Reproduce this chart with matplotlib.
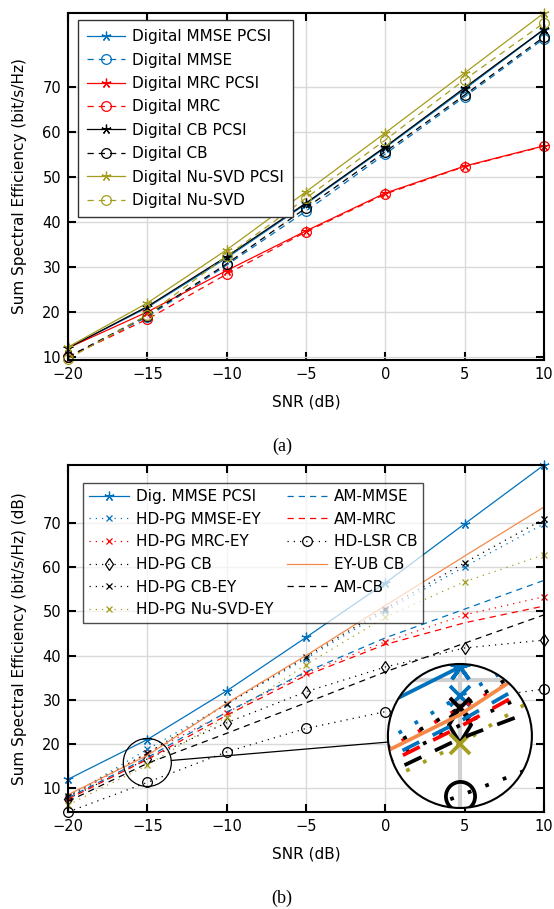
import numpy as np
import matplotlib
matplotlib.use("Agg")
import matplotlib.pyplot as plt
from matplotlib.patches import Circle, Ellipse
from matplotlib.lines import Line2D

#
# Data
#
snr = [-20, -15, -10, -5, 0, 5, 10]

# (a) digital precoders
dig_mmse_pcsi = [12.0, 21.0, 32.0, 44.0, 56.5, 69.5, 82.7]
dig_mmse = [10.0, 18.9, 30.4, 42.4, 55.1, 67.8, 80.7]
dig_mrc_pcsi = [12.0, 20.0, 29.2, 38.0, 46.4, 52.4, 56.9]
dig_mrc = [10.0, 18.4, 28.4, 37.8, 46.2, 52.3, 56.8]
dig_cb_pcsi = [12.0, 21.2, 32.3, 44.2, 56.7, 69.8, 82.8]
dig_cb = [10.0, 19.2, 30.7, 43.1, 55.6, 68.2, 81.1]
dig_nusvd_pcsi = [12.2, 22.0, 33.8, 46.7, 59.8, 73.1, 86.4]
dig_nusvd = [9.6, 19.3, 32.4, 45.3, 58.2, 71.6, 84.2]

# (b) hybrid precoders
b_dig_mmse_pcsi = [12.0, 21.0, 32.0, 44.1, 56.4, 69.8, 83.1]
hdpg_mmse_ey = [8.0, 18.8, 29.0, 39.3, 50.1, 60.1, 69.8]
hdpg_mrc_ey = [7.8, 17.9, 27.1, 36.0, 43.1, 49.2, 53.3]
hdpg_cb = [7.6, 16.6, 24.8, 31.8, 37.4, 41.7, 43.5]
hdpg_cb_ey = [8.2, 17.9, 29.0, 39.7, 50.6, 61.0, 70.9]
hdpg_nusvd_ey = [6.2, 15.2, 26.1, 37.9, 48.7, 56.7, 62.8]
am_mmse = [7.8, 16.9, 27.2, 36.3, 44.0, 50.5, 57.0]
am_mrc = [7.5, 16.5, 26.5, 35.5, 42.5, 47.4, 51.2]
hdlsr_cb = [4.6, 11.3, 18.2, 23.5, 27.3, 30.0, 32.4]
eyub_cb = [8.5, 17.4, 29.2, 40.0, 51.3, 62.5, 73.6]
am_cb = [7.0, 15.6, 22.4, 29.3, 36.3, 42.8, 49.2]

#
# Styles
#
BLUE = '#0072bd'
RED = '#ff0000'
OLIVE = '#a59d1d'
ORANGE = '#f5894a'
STAR = (5, 2, 0)
SOLID = '-'
DASH = (0, (5, 4))
DOT = (0, (1, 4))

W, H = 554, 909
LW = 0.9

plt.rcParams['font.family'] = ['DejaVu Sans']
plt.rcParams['font.size'] = 11

fig = plt.figure(figsize=(W / 100, H / 100), dpi=100)


def px_axes(l, t, r, b):
    return fig.add_axes([l / W, 1 - b / H, (r - l) / W, (b - t) / H])


def style_axes(ax, ylabel, ylim):
    ax.set_xlim(-20, 10)
    ax.set_ylim(*ylim)
    ax.set_xticks(snr)
    ax.set_yticks(range(10, 80, 10))
    ax.grid(True, color='#d9d9d9', lw=1.0)
    ax.set_axisbelow(True)
    ax.tick_params(direction='in', length=6, width=1.5, top=True, right=True,
                   labelsize=10.5, pad=5)
    for s in ax.spines.values():
        s.set_linewidth(1.5)
    ax.set_xlabel('SNR (dB)', labelpad=9)
    ax.set_ylabel(ylabel, labelpad=11)


def plot_series(ax, specs, scale=1.0, clip=None):
    for label, vals, color, ls, marker, ms in specs:
        ln, = ax.plot(snr, vals, color=color, linestyle=ls, lw=LW * scale,
                      marker=marker, ms=ms * scale, mew=LW * scale,
                      mfc='none', label=label, clip_on=(clip is not None))
        if clip is not None:
            ln.set_clip_path(clip)


#
# (a) Digital
#
ax1 = px_axes(68, 13, 544, 360)
specs_a = [
    ('Digital MMSE PCSI', dig_mmse_pcsi, BLUE, SOLID, STAR, 7),
    ('Digital MMSE', dig_mmse, BLUE, DASH, 'o', 7),
    ('Digital MRC PCSI', dig_mrc_pcsi, RED, SOLID, STAR, 7),
    ('Digital MRC', dig_mrc, RED, DASH, 'o', 7),
    ('Digital CB PCSI', dig_cb_pcsi, 'k', SOLID, STAR, 7),
    ('Digital CB', dig_cb, 'k', DASH, 'o', 7),
    ('Digital Nu-SVD PCSI', dig_nusvd_pcsi, OLIVE, SOLID, STAR, 7),
    ('Digital Nu-SVD', dig_nusvd, OLIVE, DASH, 'o', 7),
]
plot_series(ax1, specs_a)
style_axes(ax1, 'Sum Spectral Efficiency (bit/s/Hz)', (9.33, 86.4))
leg = ax1.legend(loc='upper left', bbox_to_anchor=(10 / 476, 1 - 7 / 347),
                 borderaxespad=0, fancybox=False, edgecolor='#333333',
                 framealpha=1, handlelength=2.5, handletextpad=0.45,
                 labelspacing=0.55, borderpad=0.6, fontsize=11)
leg.get_frame().set_linewidth(1.0)

#
# (b) Hybrid
#
ax2 = px_axes(68, 465, 544, 812)
specs_b = [
    ('Dig. MMSE PCSI', b_dig_mmse_pcsi, BLUE, SOLID, STAR, 7),
    ('HD-PG MMSE-EY', hdpg_mmse_ey, BLUE, DOT, 'x', 5),
    ('HD-PG MRC-EY', hdpg_mrc_ey, RED, DOT, 'x', 5),
    ('HD-PG CB', hdpg_cb, 'k', DOT, 'd', 6),
    ('HD-PG CB-EY', hdpg_cb_ey, 'k', DOT, 'x', 5),
    ('HD-PG Nu-SVD-EY', hdpg_nusvd_ey, OLIVE, DOT, 'x', 5),
    ('AM-MMSE', am_mmse, BLUE, DASH, '', 0),
    ('AM-MRC', am_mrc, RED, DASH, '', 0),
    ('HD-LSR CB', hdlsr_cb, 'k', DOT, 'o', 7),
    ('EY-UB CB', eyub_cb, ORANGE, SOLID, '', 0),
    ('AM-CB', am_cb, 'k', DASH, '', 0),
]
plot_series(ax2, specs_b)
style_axes(ax2, 'Sum Spectral Efficiency (bit/s/Hz) (dB)', (4.6, 83.1))
leg2 = ax2.legend(loc='upper left', ncol=2, bbox_to_anchor=(15 / 476, 1 - 18 / 347),
                  borderaxespad=0, fancybox=False, edgecolor='k', framealpha=0.7,
                  handlelength=2.6, handletextpad=0.45, columnspacing=0.9,
                  labelspacing=0.5, fontsize=11)
leg2.get_frame().set_linewidth(1.0)

#
# Spy-glass magnification around -15 dB
#
spy_c = (-15.0, 15.8)
zoom_c = (4.7, 21.8)
r_px, mag = 24.0, 3.0
R_px = r_px * mag

o = ax2.transData.transform((0, 0))
ppx = ax2.transData.transform((1, 0))[0] - o[0]
ppy = ax2.transData.transform((0, 1))[1] - o[1]
cx, cy = ax2.transData.transform(spy_c)
zx, zy = ax2.transData.transform(zoom_c)

ax2.add_patch(Ellipse(spy_c, 2 * r_px / ppx, 2 * r_px / ppy, fill=False,
                      ec='k', lw=0.9, zorder=6))

d = np.array([zx - cx, zy - cy])
d = d / np.hypot(*d)
p0 = np.array([cx, cy]) + r_px * d
p1 = np.array([zx, zy]) - R_px * d
fig.add_artist(Line2D([p0[0] / W, p1[0] / W], [p0[1] / H, p1[1] / H],
                      transform=fig.transFigure, color='k', lw=0.9))

axin = fig.add_axes([(zx - R_px) / W, (zy - R_px) / H, 2 * R_px / W, 2 * R_px / H])
axin.set_xlim(spy_c[0] - r_px / ppx, spy_c[0] + r_px / ppx)
axin.set_ylim(spy_c[1] - r_px / ppy, spy_c[1] + r_px / ppy)
axin.axis('off')
bg = Circle((0.5, 0.5), 0.5, transform=axin.transAxes, fc='white', ec='none', zorder=0)
axin.add_patch(bg)
for ln in [axin.axvline(-15, color='#d0d0d0', lw=3, zorder=1),
           axin.axhline(20, color='#d0d0d0', lw=3, zorder=1)]:
    ln.set_clip_path(bg)
plot_series(axin, specs_b, scale=mag, clip=bg)
axin.add_patch(Circle((0.5, 0.5), 0.5, transform=axin.transAxes, fill=False,
                      ec='k', lw=1.5, zorder=10, clip_on=False))

#
# Captions
#
fig.text(282 / W, 1 - 446 / H, '(a)', family='Liberation Serif', fontsize=13,
         ha='center', va='center')
fig.text(282 / W, 1 - 898 / H, '(b)', family='Liberation Serif', fontsize=13,
         ha='center', va='center')

fig.savefig('out.png', dpi=100)
